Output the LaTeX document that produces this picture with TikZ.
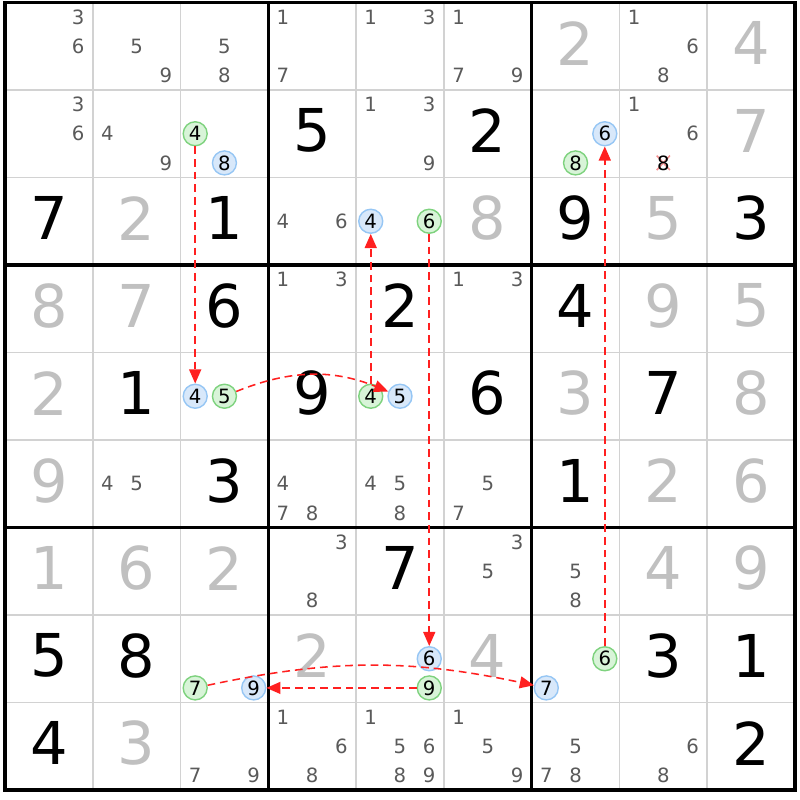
\documentclass[tikz,border=0pt]{standalone}
\usepackage{fontspec}
\setmainfont{DejaVu Sans}
\usetikzlibrary{arrows.meta}

\definecolor{solvedgrey}{HTML}{C0C0C0}
\definecolor{candgrey}{HTML}{5A5A5A}
\definecolor{gridgrey}{HTML}{D2D2D2}
\definecolor{onedge}{HTML}{7ED27E}
\definecolor{onfill}{HTML}{D8F4D8}
\definecolor{offedge}{HTML}{96C6F4}
\definecolor{offfill}{HTML}{D8E8FA}
\definecolor{linkred}{HTML}{FF2020}
\definecolor{crossred}{HTML}{F49090}

\newcommand{\bigdigit}{\fontsize{42}{42}\selectfont}
\newcommand{\smalldigit}{\fontsize{14}{14}\selectfont}

\begin{document}
\begin{tikzpicture}[x=2.1944cm, y=-2.1875cm,
    given/.style={font=\bigdigit, text=black, inner sep=0pt},
    solved/.style={font=\bigdigit, text=solvedgrey, inner sep=0pt},
    cand/.style={font=\smalldigit, text=candgrey, inner sep=0pt},
    greenmark/.style={circle, draw=onedge, fill=onfill, line width=1pt, minimum size=0.6cm, inner sep=0pt, font=\smalldigit},
    bluemark/.style={circle, draw=offedge, fill=offfill, line width=1pt, minimum size=0.6cm, inner sep=0pt, font=\smalldigit},
    cellline/.style={gridgrey, line width=1.2pt},
    boxline/.style={black, line width=2.2pt, line cap=rect},
    link/.style={linkred, line width=1.1pt, dash pattern=on 5.5pt off 3.5pt, -{Triangle[length=10pt,width=8.5pt]}}]
    \useasboundingbox (-0.057,-0.0286) rectangle (9.057,9.1143);

    \foreach \i in {1,2,4,5,7,8} {
        \draw[cellline] (\i,0) -- (\i,9);   %columns
        \draw[cellline] (0,\i) -- (9,\i);   %rows
    }
    \foreach \i in {0,3,6,9} {
        \draw[boxline] (\i,0) -- (\i,9);
        \draw[boxline] (0,\i) -- (9,\i);
    }

    % givens
    \foreach \r/\c/\d in {2/4/5, 2/6/2, 3/1/7, 3/3/1, 3/7/9, 3/9/3, 4/3/6, 4/5/2, 4/7/4,
        5/2/1, 5/4/9, 5/6/6, 5/8/7, 6/3/3, 6/7/1, 7/5/7, 8/1/5, 8/2/8, 8/8/3, 8/9/1, 9/1/4, 9/9/2}
        \node[given] (g\r\c) at (\c-0.5,\r-0.535) {\d};

    % solved
    \foreach \r/\c/\d in {1/7/2, 1/9/4, 2/9/7, 3/2/2, 3/6/8, 3/8/5, 4/1/8, 4/2/7, 4/8/9, 4/9/5,
        5/1/2, 5/7/3, 5/9/8, 6/1/9, 6/8/2, 6/9/6, 7/1/1, 7/2/6, 7/3/2, 7/8/4, 7/9/9, 8/4/2, 8/6/4, 9/2/3}
        \node[solved] (s\r\c) at (\c-0.5,\r-0.535) {\d};

    % candidates
    \foreach \r/\c/\ds in {1/1/{3,6}, 1/2/{5,9}, 1/3/{5,8}, 1/4/{1,7}, 1/5/{1,3}, 1/6/{1,7,9}, 1/8/{1,6,8},
        2/1/{3,6}, 2/2/{4,9}, 2/5/{1,3,9}, 2/8/{1,6}, 3/4/{4,6}, 4/4/{1,3}, 4/6/{1,3},
        6/2/{4,5}, 6/4/{4,7,8}, 6/5/{4,5,8}, 6/6/{5,7}, 7/4/{3,8}, 7/6/{3,5}, 7/7/{5,8},
        9/3/{7,9}, 9/4/{1,6,8}, 9/5/{1,5,6,8,9}, 9/6/{1,5,9}, 9/7/{5,7,8}, 9/8/{6,8}}
        \foreach \d in \ds {
            \pgfmathsetmacro\px{\c-1+(2*mod(\d-1,3)+1)/6}
            \pgfmathsetmacro\py{\r-1+(2*floor((\d-1)/3)+1)/6}
            \node[cand] (c\r\c\d) at (\px,\py) {\d};
        }

    % eliminated 8
    \draw[crossred, line width=1.1pt] (7.425,1.75) -- (7.575,1.915) (7.425,1.915) -- (7.575,1.75);
    \node[font=\smalldigit, inner sep=0pt] (x278) at (7.5,1.8333) {8};

    % chain cells
    \foreach \r/\c/\d/\m in {2/3/4/greenmark, 2/3/8/bluemark, 2/7/6/bluemark, 2/7/8/greenmark,
        3/5/4/bluemark, 3/5/6/greenmark, 5/3/4/bluemark, 5/3/5/greenmark, 5/5/4/greenmark, 5/5/5/bluemark,
        8/3/7/greenmark, 8/3/9/bluemark, 8/5/6/bluemark, 8/5/9/greenmark, 8/7/6/greenmark, 8/7/7/bluemark} {
            \pgfmathsetmacro\px{\c-1+(2*mod(\d-1,3)+1)/6}
            \pgfmathsetmacro\py{\r-1+(2*floor((\d-1)/3)+1)/6}
            \node[\m] (k\r\c\d) at (\px,\py) {\d};
        }

    \draw[link] (k234) -- (k534);
    \draw[link] (k535) to[bend left=22] (k555);
    \draw[link] (k554) -- (k354);
    \draw[link] (k356) -- (k856);
    \draw[link] (k859) -- (k839);
    \draw[link] (k837) to[bend left=12] (k877);
    \draw[link] (k876) -- (k276);
\end{tikzpicture}
\end{document}
